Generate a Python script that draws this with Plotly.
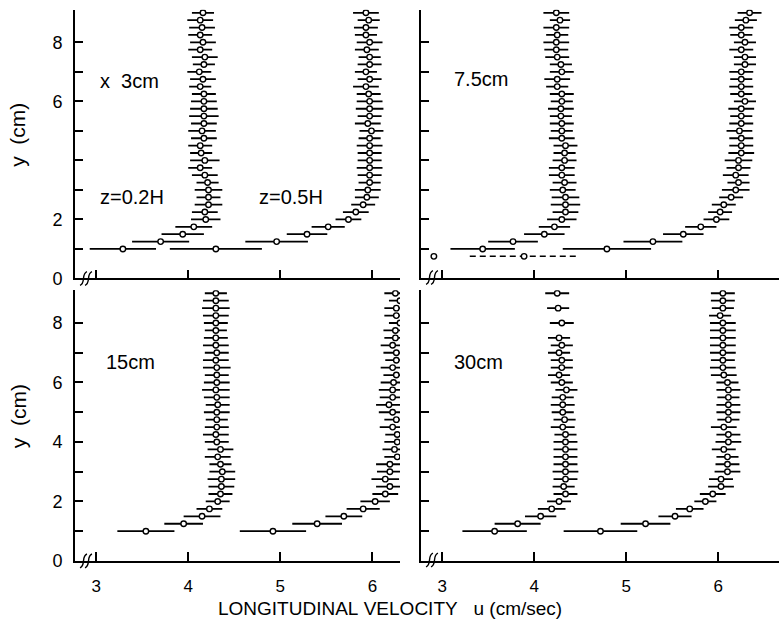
import plotly.graph_objects as go

# ---------------- data ----------------
y_levels = [1.0, 1.25, 1.5, 1.75, 2.0, 2.25, 2.5, 2.75, 3.0, 3.25, 3.5, 3.75,
            4.0, 4.25, 4.5, 4.75, 5.0, 5.25, 5.5, 5.75, 6.0, 6.25, 6.5, 6.75,
            7.0, 7.25, 7.5, 7.75, 8.0, 8.25, 8.5, 8.75, 9.0]
y_levels_30low = [1.0, 1.25, 1.5, 1.75, 2.0, 2.25, 2.5, 2.75, 3.0, 3.25, 3.5,
                  3.75, 4.0, 4.25, 4.5, 4.75, 5.0, 5.25, 5.5, 5.75, 6.0, 6.25,
                  6.5, 6.75, 7.0, 7.25, 7.5, 8.0, 8.5, 9.0]

# x = 3 cm
u3_low = [3.29, 3.70, 3.94, 4.06, 4.19, 4.18, 4.22, 4.22, 4.22, 4.21, 4.18, 4.13,
          4.18, 4.14, 4.13, 4.17, 4.15, 4.17, 4.17, 4.17, 4.17, 4.17, 4.13, 4.16,
          4.12, 4.17, 4.18, 4.13, 4.16, 4.13, 4.15, 4.13, 4.16]
e3_low = [0.36, 0.31, 0.23, 0.20, 0.16, 0.14, 0.15, 0.13, 0.15, 0.12, 0.14, 0.13,
          0.16, 0.12, 0.13, 0.14, 0.15, 0.14, 0.16, 0.15, 0.14, 0.13, 0.12, 0.14,
          0.13, 0.12, 0.14, 0.13, 0.14, 0.13, 0.14, 0.14, 0.12]
u3_high = [4.30, 4.96, 5.29, 5.52, 5.74, 5.82, 5.90, 5.94, 5.95, 5.97, 5.97, 5.97,
           5.97, 5.97, 5.97, 5.97, 5.99, 5.95, 5.97, 5.97, 5.97, 5.96, 5.93, 5.97,
           5.93, 5.97, 5.97, 5.94, 5.97, 5.93, 5.93, 5.96, 5.93]
e3_high = [0.50, 0.34, 0.22, 0.18, 0.14, 0.14, 0.13, 0.13, 0.14, 0.12, 0.13, 0.14,
           0.13, 0.13, 0.14, 0.12, 0.13, 0.14, 0.13, 0.15, 0.14, 0.13, 0.14, 0.13,
           0.12, 0.13, 0.12, 0.13, 0.14, 0.12, 0.13, 0.12, 0.14]

# x = 7.5 cm
u75_low = [3.44, 3.77, 4.11, 4.22, 4.30, 4.34, 4.34, 4.34, 4.31, 4.33, 4.30, 4.30,
           4.33, 4.33, 4.34, 4.30, 4.30, 4.30, 4.29, 4.29, 4.30, 4.30, 4.25, 4.25,
           4.30, 4.29, 4.25, 4.24, 4.24, 4.25, 4.24, 4.28, 4.24]
e75_low = [0.35, 0.27, 0.22, 0.17, 0.16, 0.14, 0.16, 0.15, 0.14, 0.13, 0.14, 0.14,
           0.13, 0.12, 0.13, 0.14, 0.12, 0.13, 0.12, 0.14, 0.12, 0.13, 0.12, 0.14,
           0.13, 0.12, 0.13, 0.13, 0.14, 0.12, 0.14, 0.11, 0.14]
u75_high = [4.79, 5.29, 5.62, 5.81, 5.98, 6.02, 6.06, 6.14, 6.19, 6.22, 6.19, 6.22,
            6.22, 6.25, 6.25, 6.25, 6.23, 6.25, 6.25, 6.25, 6.29, 6.25, 6.25, 6.25,
            6.25, 6.29, 6.29, 6.25, 6.29, 6.25, 6.25, 6.30, 6.34]
e75_high = [0.48, 0.32, 0.22, 0.17, 0.14, 0.13, 0.13, 0.13, 0.15, 0.12, 0.14, 0.13,
            0.15, 0.14, 0.13, 0.13, 0.14, 0.13, 0.12, 0.14, 0.12, 0.12, 0.13, 0.12,
            0.13, 0.12, 0.12, 0.13, 0.12, 0.12, 0.13, 0.12, 0.13]
# extra readings at y = 0.75 cm (x = 7.5 cm)
y75_extra = 0.75
u75_low_extra = 2.91
u75_high_extra = 3.89
e75_high_extra = 0.59

# x = 15 cm
u15_low = [3.54, 3.95, 4.15, 4.23, 4.32, 4.35, 4.36, 4.36, 4.37, 4.35, 4.32, 4.35,
           4.31, 4.30, 4.31, 4.31, 4.31, 4.32, 4.31, 4.30, 4.31, 4.31, 4.31, 4.30,
           4.31, 4.30, 4.30, 4.30, 4.30, 4.30, 4.30, 4.30, 4.30]
e15_low = [0.31, 0.21, 0.20, 0.14, 0.13, 0.13, 0.14, 0.15, 0.14, 0.12, 0.14, 0.14,
           0.13, 0.14, 0.13, 0.12, 0.14, 0.13, 0.14, 0.15, 0.14, 0.13, 0.15, 0.14,
           0.13, 0.14, 0.13, 0.12, 0.13, 0.14, 0.15, 0.14, 0.12]
u15_high = [4.92, 5.40, 5.69, 5.90, 6.03, 6.14, 6.19, 6.14, 6.19, 6.19, 6.27, 6.24,
            6.27, 6.27, 6.22, 6.26, 6.22, 6.18, 6.22, 6.22, 6.23, 6.26, 6.22, 6.26,
            6.26, 6.22, 6.25, 6.25, 6.30, 6.26, 6.26, 6.30, 6.25]
e15_high = [0.36, 0.27, 0.20, 0.18, 0.16, 0.14, 0.15, 0.15, 0.14, 0.15, 0.14, 0.13,
            0.14, 0.13, 0.14, 0.13, 0.15, 0.14, 0.14, 0.15, 0.14, 0.14, 0.13, 0.12,
            0.14, 0.13, 0.12, 0.13, 0.12, 0.13, 0.13, 0.12, 0.12]

# x = 30 cm
u30_low = [3.57, 3.82, 4.07, 4.19, 4.27, 4.34, 4.32, 4.34, 4.34, 4.34, 4.34, 4.34,
           4.34, 4.34, 4.31, 4.33, 4.31, 4.31, 4.31, 4.35, 4.30, 4.27, 4.30, 4.30,
           4.27, 4.30, 4.27, 4.30, 4.26, 4.25]
e30_low = [0.35, 0.25, 0.17, 0.15, 0.13, 0.13, 0.12, 0.13, 0.14, 0.13, 0.13, 0.13,
           0.13, 0.12, 0.13, 0.12, 0.12, 0.13, 0.12, 0.12, 0.12, 0.12, 0.12, 0.12,
           0.12, 0.12, 0.12, 0.13, 0.12, 0.13]
u30_high = [4.72, 5.21, 5.53, 5.69, 5.86, 5.94, 6.03, 6.03, 6.10, 6.10, 6.10, 6.06,
            6.11, 6.11, 6.06, 6.11, 6.11, 6.11, 6.11, 6.11, 6.10, 6.06, 6.05, 6.05,
            6.05, 6.05, 6.05, 6.05, 6.05, 6.02, 6.05, 6.05, 6.05]
e30_high = [0.40, 0.27, 0.18, 0.15, 0.12, 0.14, 0.14, 0.13, 0.14, 0.13, 0.12, 0.13,
            0.14, 0.13, 0.14, 0.12, 0.13, 0.13, 0.12, 0.13, 0.12, 0.14, 0.14, 0.13,
            0.14, 0.14, 0.14, 0.14, 0.14, 0.12, 0.12, 0.13, 0.13]

x_ticks = [3, 4, 5, 6]
y_ticks = [0, 1, 2, 3, 4, 5, 6, 7, 8]
y_text_top = ["0", "", "2", "", "", "", "6", "", "8"]
y_text_bot = ["0", "", "2", "", "4", "", "6", "", "8"]

# ---------------- layout helpers ----------------
W, H = 779, 628
FONT = "Liberation Sans, Arial, sans-serif"


def fx(p):
    return p / W


def fy(p):
    return 1 - p / H


fig = go.Figure()

marker = dict(symbol="circle", size=5.5, color="white",
              line=dict(color="black", width=1.4))


def profile(u, y, e, xa, ya):
    # horizontal bars (no caps) built from the data
    bx, by = [], []
    for ui, yi, ei in zip(u, y, e):
        bx += [ui - ei, ui + ei, None]
        by += [yi, yi, None]
    fig.add_trace(go.Scatter(x=bx, y=by, mode="lines", xaxis=xa, yaxis=ya,
                             line=dict(color="black", width=1.8),
                             showlegend=False, hoverinfo="skip"))
    fig.add_trace(go.Scatter(x=u, y=y, mode="markers", marker=marker,
                             xaxis=xa, yaxis=ya, showlegend=False,
                             hoverinfo="x+y"))


profile(u3_low, y_levels, e3_low, "x", "y")
profile(u3_high, y_levels, e3_high, "x", "y")
profile(u75_low, y_levels, e75_low, "x2", "y2")
profile(u75_high, y_levels, e75_high, "x2", "y2")
profile(u15_low, y_levels, e15_low, "x3", "y3")
profile(u15_high, y_levels, e15_high, "x3", "y3")
profile(u30_low, y_levels_30low, e30_low, "x4", "y4")
profile(u30_high, y_levels, e30_high, "x4", "y4")

# dashed bar of the y = 0.75 reading at 7.5 cm
fig.add_trace(go.Scatter(
    x=[u75_high_extra - e75_high_extra, u75_high_extra + e75_high_extra],
    y=[y75_extra, y75_extra], mode="lines", xaxis="x2", yaxis="y2",
    line=dict(color="black", width=1.5, dash="6px,4px"), showlegend=False,
    hoverinfo="skip"))
fig.add_trace(go.Scatter(
    x=[u75_low_extra, u75_high_extra], y=[y75_extra, y75_extra],
    mode="markers", marker=marker, xaxis="x2", yaxis="y2", showlegend=False))

# ---------------- axes ----------------
L_DOM = (fx(75), fx(400))
R_DOM = (fx(421), fx(779))
T_DOM = (fy(283), fy(10))
B_DOM = (fy(570), fy(295))

common_x = dict(showline=True, linecolor="black", linewidth=1.7, ticks="inside",
                ticklen=9, tickwidth=1.7, tickcolor="black", tickvals=x_ticks,
                showgrid=False, zeroline=False, fixedrange=True,
                tickfont=dict(family=FONT, size=17, color="black"),
                ticklabelstandoff=9)
common_y = dict(showline=True, linecolor="black", linewidth=1.7, ticks="inside",
                ticklen=8, tickwidth=1.7, tickcolor="black", tickvals=y_ticks,
                showgrid=False, zeroline=False, range=[0, 9.1], fixedrange=True,
                tickfont=dict(family=FONT, size=18, color="black"),
                ticklabelstandoff=7)

fig.update_layout(
    width=W, height=H, margin=dict(l=0, r=0, t=0, b=0),
    paper_bgcolor="white", plot_bgcolor="white",
    xaxis=dict(common_x, domain=L_DOM, range=[2.77, 6.30], anchor="y",
               showticklabels=False),
    yaxis=dict(common_y, domain=T_DOM, anchor="x", ticktext=y_text_top),
    xaxis2=dict(common_x, domain=R_DOM, range=[2.77, 6.66], anchor="y2",
                showticklabels=False),
    yaxis2=dict(common_y, domain=T_DOM, anchor="x2", showticklabels=False),
    xaxis3=dict(common_x, domain=L_DOM, range=[2.77, 6.30], anchor="y3"),
    yaxis3=dict(common_y, domain=B_DOM, anchor="x3", ticktext=y_text_bot),
    xaxis4=dict(common_x, domain=R_DOM, range=[2.77, 6.66], anchor="y4"),
    yaxis4=dict(common_y, domain=B_DOM, anchor="x4", showticklabels=False),
)

# ---------------- text ----------------
def label(text, x, y, size=20, angle=0, anchor="left"):
    fig.add_annotation(text=text, x=fx(x), y=fy(y), xref="paper", yref="paper",
                       showarrow=False, xanchor=anchor, yanchor="middle",
                       textangle=angle,
                       font=dict(family=FONT, size=size, color="black"))


label("x\u00a0\u00a03cm", 98, 82)
label("z=0.2H", 98, 200)
label("z=0.5H", 257, 200)
label("7.5cm", 452, 80)
label("15cm", 104, 368)
label("30cm", 452, 368)
label("y\u00a0\u00a0(cm)", 18, 137, size=21, angle=-90, anchor="center")
label("y\u00a0\u00a0(cm)", 18, 423, size=21, angle=-90, anchor="center")
label("LONGITUDINAL\u00a0VELOCITY\u00a0\u00a0\u00a0u\u00a0(cm/sec)", 390, 618,
      size=19, anchor="center")

# axis-break marks
def brk(x0, y0):
    for dx in (0, 5):
        xa = x0 + dx
        path = (f"M {fx(xa - 2)},{fy(y0 + 7)} "
                f"Q {fx(xa + 1)},{fy(y0 + 6)} {fx(xa + 1.5)},{fy(y0)} "
                f"Q {fx(xa + 2)},{fy(y0 - 6)} {fx(xa + 5)},{fy(y0 - 7)}")
        fig.add_shape(type="path", path=path, xref="paper", yref="paper",
                      line=dict(color="black", width=1.4))


brk(82, 283)
brk(428, 282)
brk(82, 570)
brk(428, 569)

fig.write_html("out.html")
